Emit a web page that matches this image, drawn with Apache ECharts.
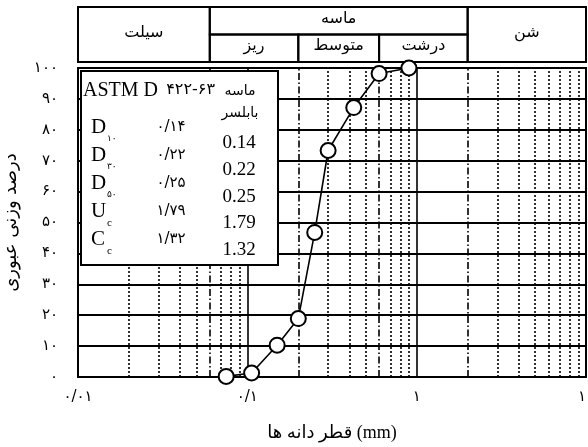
<!DOCTYPE html>
<html>
<head>
<meta charset="utf-8">
<script src="https://cdn.jsdelivr.net/npm/echarts@6/dist/echarts.min.js"></script>
<style>
  html, body { margin: 0; padding: 0; background: #fff; }
  #chart { width: 588px; height: 447px; }
</style>
</head>
<body>
<div id="chart"></div>
<script>
// Grain-size distribution (sieve analysis) data
const sieveSize = [0.075, 0.106, 0.15, 0.2, 0.25, 0.3, 0.425, 0.6, 0.9];
const percentPassing = [0.2, 1.3, 10.3, 18.9, 46.8, 73.3, 87.2, 98.2, 100];

// Axis tick labels (Persian digits)
const xTickLabels = ['۰/۰۱', '۰/۱', '۱', '۱۰'];
const yTickLabels = ['۰', '۱۰', '۲۰', '۳۰', '۴۰', '۵۰', '۶۰', '۷۰', '۸۰', '۹۰', '۱۰۰'];

// Minor log grid lines and soil-class boundaries (mm)
const minorLines = [0.02, 0.03, 0.04, 0.05, 0.07, 0.08, 0.09, 0.3, 0.4, 0.5, 0.7, 0.8, 0.9, 3, 4, 5, 6, 7, 8, 9];
const boundaryLines = [0.06, 0.2, 0.6, 2];

// Classification header cells: [from mm, to mm, row bottom, row top]
const classCells = [
  [0.01, 0.06, 0, 2], [0.06, 2, 1, 2], [0.06, 0.2, 0, 1],
  [0.2, 0.6, 0, 1], [0.6, 2, 0, 1], [2, 10, 0, 2]
];
const classNames = ['سیلت', 'ماسه', 'ریز', 'متوسط', 'درشت', 'شن'];

// Table of grading parameters
const paramLetters = ['D', 'D', 'D', 'U', 'C'];
const paramSubs = ['۱۰', '۳۰', '۵۰', 'c', 'c'];
const paramValuesFa = ['۰/۱۴', '۰/۲۲', '۰/۲۵', '۱/۷۹', '۱/۳۲'];
const paramValuesEn = ['0.14', '0.22', '0.25', '1.79', '1.32'];
const tableTitle = ['ASTM D', '۴۲۲-۶۳'];
const sampleName = ['ماسه', 'بابلسر'];

const FA = '"DejaVu Sans", sans-serif';
const SERIF = '"Liberation Serif", "DejaVu Sans", serif';

const chart = echarts.init(document.getElementById('chart'), null, { renderer: 'canvas' });

const dotted = { color: '#000', width: 1.6, type: [2, 2] };
const dashDot = { color: '#000', width: 1.6, type: [7, 2.5, 1.5, 2.5] };

const markData = minorLines.map(v => ({ xAxis: v, lineStyle: dotted }))
  .concat(boundaryLines.map(v => ({ xAxis: v, lineStyle: dashDot })));

// Parameter table (box, title and rows)
const tableX = 81, tableY = 71, tableW = 197, tableH = 194;
const graphics = [
  { type: 'rect', z: 100, shape: { x: tableX, y: tableY, width: tableW, height: tableH },
    style: { fill: '#fff', stroke: '#000', lineWidth: 2 } },
  { type: 'text', z: 101, style: { text: tableTitle[0], x: 83, y: 91, font: '20px ' + SERIF, fill: '#000', align: 'left', verticalAlign: 'middle' } },
  { type: 'text', z: 101, style: { text: tableTitle[1], x: 215, y: 90, font: '16px ' + FA, fill: '#000', align: 'right', verticalAlign: 'middle' } },
  { type: 'text', z: 101, style: { text: sampleName[0], x: 240, y: 91, font: '14px ' + FA, fill: '#000', align: 'center', verticalAlign: 'middle' } },
  { type: 'text', z: 101, style: { text: sampleName[1], x: 240, y: 113, font: '14px ' + FA, fill: '#000', align: 'center', verticalAlign: 'middle' } }
];
paramLetters.forEach((letter, i) => {
  const yc = 127 + i * 28;
  graphics.push({ type: 'text', z: 101, style: { text: letter, x: 91, y: yc, font: '21px ' + SERIF, fill: '#000', align: 'left', verticalAlign: 'middle' } });
  const isLatin = paramSubs[i] === 'c';
  graphics.push({ type: 'text', z: 101, style: { text: paramSubs[i], x: 107, y: yc + 12, font: (isLatin ? '11px ' + SERIF : '9px ' + FA), fill: '#000', align: 'left', verticalAlign: 'middle' } });
  graphics.push({ type: 'text', z: 101, style: { text: paramValuesFa[i], x: 171, y: yc, font: '15px ' + FA, fill: '#000', align: 'center', verticalAlign: 'middle' } });
  graphics.push({ type: 'text', z: 101, style: { text: paramValuesEn[i], x: 239, y: 143 + i * 26.8, font: '19px ' + SERIF, fill: '#000', align: 'center', verticalAlign: 'middle' } });
});

const option = {
  backgroundColor: '#fff',
  animation: false,
  grid: [
    { left: 78, right: 2, top: 68, bottom: 70, show: true, borderColor: '#000', borderWidth: 2, outerBoundsMode: 'none' },
    { left: 78, right: 2, top: 7, height: 55, show: false, outerBoundsMode: 'none' }
  ],
  xAxis: [
    {
      type: 'log', logBase: 10, min: 0.01, max: 10, gridIndex: 0,
      name: 'قطر دانه ها (mm)', nameLocation: 'middle', nameGap: 47,
      nameTextStyle: { fontFamily: SERIF, fontSize: 18, color: '#000' },
      axisLine: { show: true, lineStyle: { color: '#000', width: 2 } },
      axisTick: { show: false },
      axisLabel: {
        margin: 13, color: '#000', fontFamily: FA, fontSize: 15,
        formatter: v => xTickLabels[Math.round(Math.log10(v)) + 2]
      },
      splitLine: { show: true, lineStyle: { color: '#000', width: 1.6 } },
      minorTick: { show: false }
    },
    { type: 'log', logBase: 10, min: 0.01, max: 10, gridIndex: 1, show: false }
  ],
  yAxis: [
    {
      type: 'value', min: 0, max: 100, interval: 10, gridIndex: 0,
      name: 'درصد وزنی عبوری', nameLocation: 'middle', nameGap: 58, nameRotate: 90,
      nameTextStyle: { fontFamily: FA, fontSize: 18, color: '#000' },
      axisLine: { show: true, lineStyle: { color: '#000', width: 2 } },
      axisTick: { show: false },
      axisLabel: {
        margin: 20, color: '#000', fontFamily: FA, fontSize: 15,
        formatter: v => yTickLabels[Math.round(v / 10)]
      },
      splitLine: { show: true, lineStyle: { color: '#000', width: 2 } }
    },
    { type: 'value', min: 0, max: 2, gridIndex: 1, show: false }
  ],
  graphic: graphics,
  series: [
    {
      type: 'line', xAxisIndex: 0, yAxisIndex: 0, data: [], z: 1, silent: true,
      markLine: {
        silent: true, symbol: ['none', 'none'], label: { show: false },
        emphasis: { disabled: true }, animation: false,
        data: markData
      }
    },
    {
      type: 'custom', xAxisIndex: 1, yAxisIndex: 1, silent: true,
      encode: { x: [0, 1], y: [2, 3] },
      data: classCells,
      renderItem: (params, api) => {
        const p0 = api.coord([api.value(0), api.value(3)]);
        const p1 = api.coord([api.value(1), api.value(2)]);
        return {
          type: 'group',
          children: [
            { type: 'rect', shape: { x: p0[0], y: p0[1], width: p1[0] - p0[0], height: p1[1] - p0[1] },
              style: { fill: 'none', stroke: '#000', lineWidth: 2 } },
            { type: 'text', style: { text: classNames[params.dataIndex], x: (p0[0] + p1[0]) / 2, y: (p0[1] + p1[1]) / 2 - 2,
              font: '16px ' + FA, fill: '#000', align: 'center', verticalAlign: 'middle' } }
          ]
        };
      }
    },
    {
      type: 'line', xAxisIndex: 0, yAxisIndex: 0, z: 10,
      data: sieveSize.map((s, i) => [s, percentPassing[i]]),
      symbol: 'circle', symbolSize: 15,
      itemStyle: { color: '#fff', borderColor: '#000', borderWidth: 2 },
      lineStyle: { color: '#000', width: 1.6 }
    }
  ]
};

chart.setOption(option);
</script>
</body>
</html>
